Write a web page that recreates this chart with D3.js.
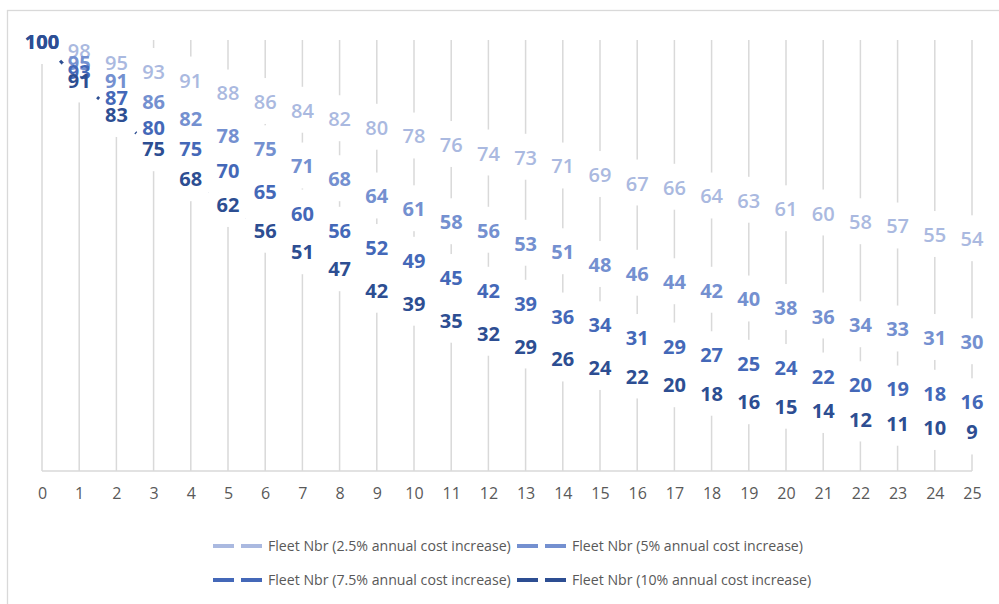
<!DOCTYPE html>
<html>
<head>
<meta charset="utf-8">
<script src="https://cdn.jsdelivr.net/npm/d3@7"></script>
<style>
  html, body { margin: 0; padding: 0; background: #fff; }
  svg { display: block; }
</style>
</head>
<body>
<svg id="chart" width="999" height="604"></svg>
<script>
// ---- data ----
const years = d3.range(0, 26);
const seriesNames = [
  "Fleet Nbr (2.5% annual cost increase)",
  "Fleet Nbr (5% annual cost increase)",
  "Fleet Nbr (7.5% annual cost increase)",
  "Fleet Nbr (10% annual cost increase)"
];
const fleet25 = [100,98,95,93,91,88,86,84,82,80,78,76,74,73,71,69,67,66,64,63,61,60,58,57,55,54];
const fleet50 = [100,95,91,86,82,78,75,71,68,64,61,58,56,53,51,48,46,44,42,40,38,36,34,33,31,30];
const fleet75 = [100,93,87,80,75,70,65,60,56,52,49,45,42,39,36,34,31,29,27,25,24,22,20,19,18,16];
const fleet100 = [100,91,83,75,68,62,56,51,47,42,39,35,32,29,26,24,22,20,18,16,15,14,12,11,10,9];
const tickLabels = years.map(String);

const colors = ["#aab9e0", "#7490d0", "#4468b8", "#2d4e92"];
const allSeries = [fleet25, fleet50, fleet75, fleet100].map((vals, i) => ({
  name: seriesNames[i], color: colors[i], values: vals
}));

// ---- layout ----
const svg = d3.select("#chart");
const x = d3.scalePoint().domain(years).range([42, 972]);
const y = d3.scaleLinear().domain([0, 100]).range([471, 42]);
const plotTop = 40;
const font = "'Open Sans', 'Noto Sans', sans-serif";

// chart border (cropped at right/bottom)
svg.append("rect")
  .attr("x", 7.5).attr("y", 10.5).attr("width", 1100).attr("height", 700)
  .attr("fill", "none").attr("stroke", "#d9d9d9").attr("stroke-width", 1.3);

// vertical gridlines
svg.append("g").selectAll("line").data(years).join("line")
  .attr("x1", d => x(d)).attr("x2", d => x(d))
  .attr("y1", plotTop).attr("y2", y(0))
  .attr("stroke", "#d9d9d9").attr("stroke-width", 1.5);

// x axis
const xAxis = d3.axisBottom(x).tickSize(0).tickPadding(17)
  .tickFormat((d, i) => tickLabels[i]);
const gx = svg.append("g").attr("transform", `translate(0,${y(0)})`).call(xAxis);
gx.select(".domain").attr("stroke", "#d9d9d9").attr("stroke-width", 1.5)
  .attr("d", `M${x(0)},0H${x(25)}`);
gx.selectAll("text").attr("font-family", font).attr("font-size", 16)
  .attr("fill", "#595959");

// series lines + white markers
const line = d3.line().x((d, i) => x(years[i])).y(d => y(d));
allSeries.forEach(s => {
  const g = svg.append("g");
  g.append("path").attr("d", line(s.values))
    .attr("fill", "none").attr("stroke", s.color).attr("stroke-width", 3)
    .attr("stroke-dasharray", "20,6");
  g.selectAll("circle").data(s.values).join("circle")
    .attr("cx", (d, i) => x(years[i])).attr("cy", d => y(d) - 1)
    .attr("r", 23).attr("fill", "#ffffff");
});

// data labels
allSeries.forEach((s, si) => {
  svg.append("g").selectAll("text").data(s.values).join("text")
    .attr("x", (d, i) => x(years[i])).attr("y", d => y(d))
    .attr("dy", "0.35em")
    .attr("text-anchor", "middle")
    .attr("font-family", font)
    .attr("font-weight", si === 0 ? 600 : 700)
    .attr("font-size", 20)
    .attr("fill", s.color)
    .text(d => d);
});

// legend
const legendPos = [[213, 546], [517, 546], [213, 580], [517, 580]];
allSeries.forEach((s, i) => {
  const [lx, ly] = legendPos[i];
  const g = svg.append("g").attr("transform", `translate(${lx},${ly})`);
  g.append("line").attr("x1", 0).attr("x2", 49).attr("y1", 0).attr("y2", 0)
    .attr("stroke", s.color).attr("stroke-width", 4).attr("stroke-dasharray", "21,7");
  const t = g.append("text").attr("x", 55).attr("y", 0).attr("dy", "0.35em")
    .attr("font-family", font).attr("font-size", 13).attr("fill", "#595959")
    .text(s.name);
});
// fit legend text width to reference (2.5% item spans ~243px)
const probe = svg.selectAll("g text").filter(function() { return d3.select(this).text() === seriesNames[0]; });
if (!probe.empty()) {
  const w = probe.node().getComputedTextLength();
  const fs = 13 * 243 / w;
  svg.selectAll("g text").filter(function() { return seriesNames.includes(d3.select(this).text()); })
    .attr("font-size", fs.toFixed(2));
}
</script>
</body>
</html>
